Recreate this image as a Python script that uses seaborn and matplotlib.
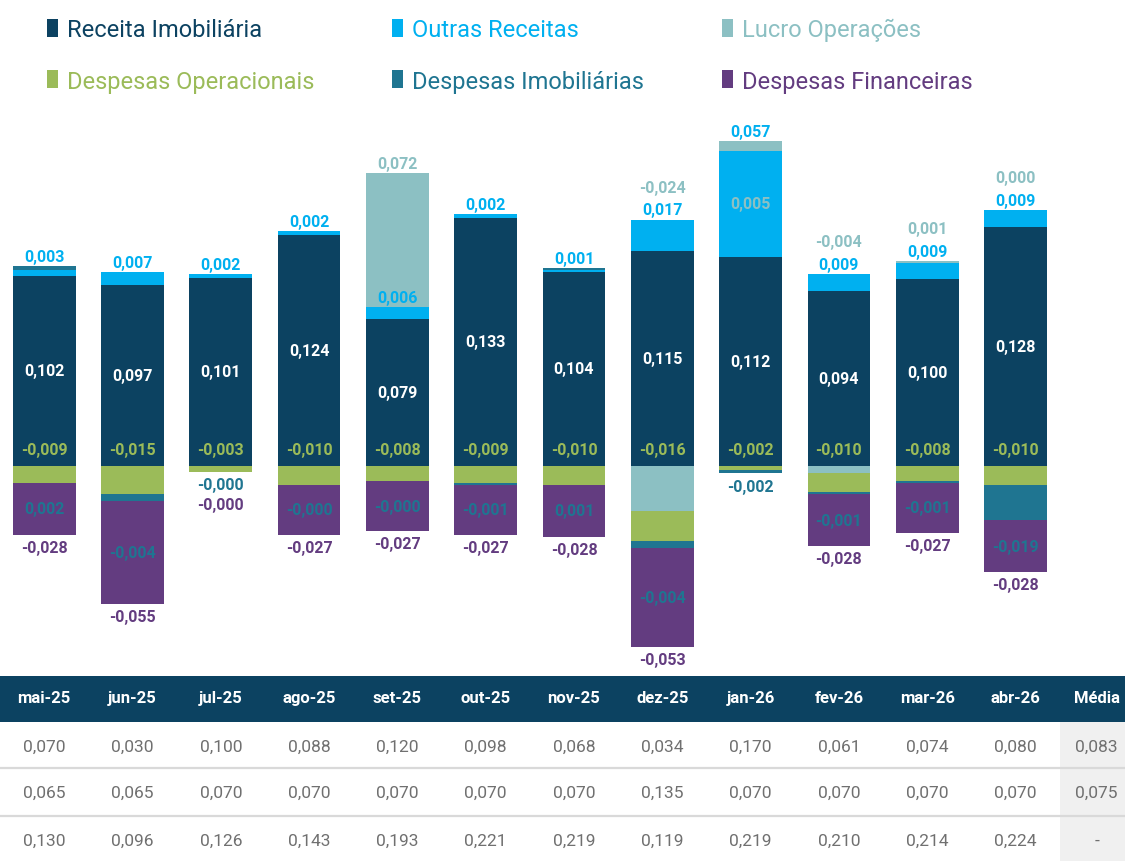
import numpy as np
import pandas as pd
import matplotlib.pyplot as plt
import seaborn as sns
from matplotlib.patches import Patch

# ==========================
# Dados
# ==========================
months = ['mai-25', 'jun-25', 'jul-25', 'ago-25', 'set-25', 'out-25',
          'nov-25', 'dez-25', 'jan-26', 'fev-26', 'mar-26', 'abr-26']

receita_imob = [0.102, 0.097, 0.101, 0.124, 0.079, 0.133,
                0.104, 0.115, 0.112, 0.094, 0.100, 0.128]
outras_receitas = [0.003, 0.007, 0.002, 0.002, 0.006, 0.002,
                   0.001, 0.017, 0.057, 0.009, 0.009, 0.009]
lucro_operacoes = [np.nan, np.nan, np.nan, np.nan, 0.072, np.nan,
                   np.nan, -0.024, 0.005, -0.004, 0.001, 0.000]
despesas_oper = [-0.009, -0.015, -0.003, -0.010, -0.008, -0.009,
                 -0.010, -0.016, -0.002, -0.010, -0.008, -0.010]
despesas_imob = [0.002, -0.004, -0.0, -0.0, -0.0, -0.001,
                 0.001, -0.004, -0.002, -0.001, -0.001, -0.019]
despesas_fin = [-0.028, -0.055, -0.0, -0.027, -0.027, -0.027,
                -0.028, -0.053, np.nan, -0.028, -0.027, -0.028]

# tabela abaixo do gráfico
table_cols = months + ['Média']
linha_1 = [0.070, 0.030, 0.100, 0.088, 0.120, 0.098, 0.068, 0.034, 0.170, 0.061, 0.074, 0.080]
linha_2 = [0.065, 0.065, 0.070, 0.070, 0.070, 0.070, 0.070, 0.135, 0.070, 0.070, 0.070, 0.070]
linha_3 = [0.130, 0.096, 0.126, 0.143, 0.193, 0.221, 0.219, 0.119, 0.219, 0.210, 0.214, 0.224]
media = [0.083, 0.075, None]

# cores
NAVY = '#0c4261'
CYAN = '#00b0f0'
LIGHT_TEAL = '#8cc0c3'
GREEN = '#9bbb59'
TEAL = '#1f7591'
PURPLE = '#633c80'
GREY_TXT = '#707070'

series = [
    ('Receita Imobiliária', receita_imob, NAVY),
    ('Outras Receitas', outras_receitas, CYAN),
    ('Lucro Operações', lucro_operacoes, LIGHT_TEAL),
    ('Despesas Operacionais', despesas_oper, GREEN),
    ('Despesas Imobiliárias', despesas_imob, TEAL),
    ('Despesas Financeiras', despesas_fin, PURPLE),
]


def fmt(v):
    return f"{v:.3f}".replace('.', ',')


sns.set_theme(style='white')
plt.rcParams['font.family'] = ['Roboto', 'DejaVu Sans']

fig = plt.figure(figsize=(11.25, 8.62), dpi=100)
W, H = 1125, 862
XMAX = 12.24

# ==========================
# Barras empilhadas
# ==========================
ax = fig.add_axes([0, (H - 670) / H, 1, 550 / H])

pos = np.zeros(len(months))
neg = np.zeros(len(months))
bottoms = {}
for name, vals, color in series:
    v = np.nan_to_num(np.array(vals, dtype=float))
    base = np.where(v >= 0, pos, neg)
    bottoms[name] = base.copy()
    df = pd.DataFrame({'mes': months, 'valor': v})
    sns.barplot(data=df, x='mes', y='valor', order=months, bottom=base,
                color=color, saturation=1, width=0.71, errorbar=None,
                linewidth=0, ax=ax)
    pos += np.where(v > 0, v, 0)
    neg += np.where(v < 0, v, 0)

ax.set_xlim(-0.5, XMAX)
ax.set_ylim(-(670 - 467) / 1866, (467 - 120) / 1866)
ax.axis('off')

lbl = dict(fontsize=11.5, fontweight='bold', ha='center', va='center',
           textcoords='offset points')

for i in range(len(months)):
    rec = receita_imob[i]
    out = outras_receitas[i]
    luc = lucro_operacoes[i]
    imob = despesas_imob[i]
    fin = despesas_fin[i]
    top_all = pos[i]
    top_out = bottoms['Outras Receitas'][i] + out

    # receita imobiliária, no meio da barra
    ax.annotate(fmt(rec), (i, rec / 2), xytext=(0, 0), color='white', **lbl)
    # despesas operacionais, logo acima do zero
    ax.annotate(fmt(despesas_oper[i]), (i, 0), xytext=(0, 12), color=GREEN, **lbl)

    # outras receitas / lucro operações
    if not np.isnan(luc) and luc >= 0.02:
        ax.annotate(fmt(out), (i, top_out), xytext=(0, 7), color=CYAN, **lbl)
        ax.annotate(fmt(luc), (i, top_all), xytext=(0, 7), color=LIGHT_TEAL, **lbl)
    elif out >= 0.03:
        ax.annotate(fmt(out), (i, top_all), xytext=(0, 7), color=CYAN, **lbl)
        if not np.isnan(luc):
            ax.annotate(fmt(luc), (i, rec + out / 2), xytext=(0, 0),
                        color=LIGHT_TEAL, **lbl)
    else:
        ax.annotate(fmt(out), (i, top_all), xytext=(0, 7), color=CYAN, **lbl)
        if not np.isnan(luc):
            ax.annotate(fmt(luc), (i, top_all), xytext=(0, 23.5),
                        color=LIGHT_TEAL, **lbl)

    # despesas imobiliárias / financeiras
    bottom_all = neg[i]
    if not np.isnan(fin) and fin < -0.005:
        mid_fin = bottoms['Despesas Financeiras'][i] + fin / 2
        ax.annotate(fmt(imob), (i, mid_fin), xytext=(0, 0), color=TEAL, **lbl)
        ax.annotate(fmt(fin), (i, bottom_all), xytext=(0, -9), color=PURPLE, **lbl)
    else:
        ax.annotate(fmt(imob), (i, bottom_all), xytext=(0, -9.5), color=TEAL, **lbl)
        if not np.isnan(fin):
            ax.annotate(fmt(fin), (i, bottom_all), xytext=(0, -24), color=PURPLE, **lbl)

# ==========================
# Legenda
# ==========================
order = [0, 3, 1, 4, 2, 5]
handles = [Patch(facecolor=series[k][2], edgecolor='none') for k in order]
labels = [series[k][0] for k in order]
fig.legend(handles, labels, loc='upper left', bbox_to_anchor=(47 / W, 1 - 19 / H),
           ncol=3, frameon=False, fontsize=17, labelcolor='linecolor',
           handlelength=0.45, handleheight=0.8, handletextpad=0.4,
           columnspacing=3.3, labelspacing=1.2, borderpad=0, borderaxespad=0)

# ==========================
# Tabela
# ==========================
TH = H - 677
tax = fig.add_axes([0, 0, 1, TH / H])
tax.set_xlim(-0.5, XMAX)
tax.set_ylim(TH, 0)
tax.axis('off')

tax.fill_between([-0.5, XMAX], 0, 46, color=NAVY, linewidth=0)
tax.fill_between([11.5, XMAX], 46, TH, color='#f0f0f0', linewidth=0)
for y in [92, 140]:
    tax.plot([-0.5, XMAX], [y, y], color='#d9d9d9', linewidth=1.6)

col_x = list(range(len(months))) + [11.92]
for x, name in zip(col_x, table_cols):
    tax.text(x, 22, name, color='white', fontsize=12, fontweight='bold',
             ha='center', va='center')

rows = [linha_1, linha_2, linha_3]
row_y = [70, 116, 164]
for r, (vals, y) in enumerate(zip(rows, row_y)):
    for x, v in zip(col_x, vals + [media[r]]):
        txt = '-' if v is None else fmt(v)
        tax.text(x, y, txt, color=GREY_TXT, fontsize=12.5, ha='center', va='center')

fig.savefig('out.png', dpi=100)
